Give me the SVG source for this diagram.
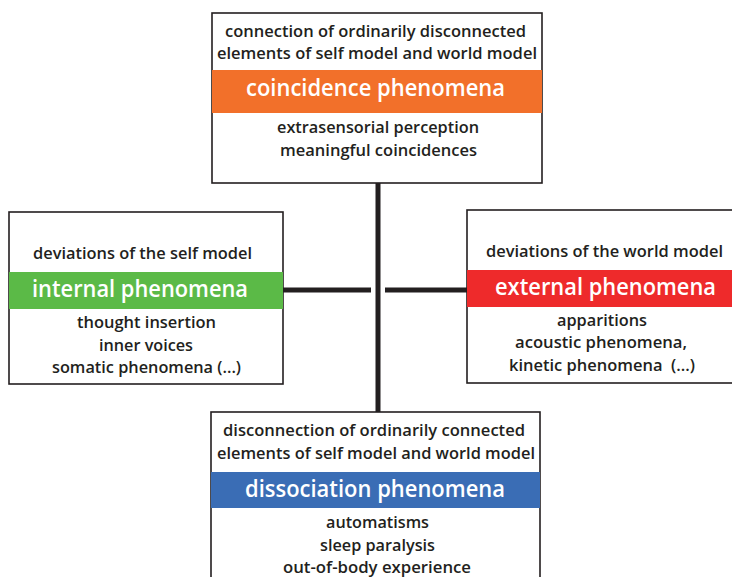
<svg xmlns="http://www.w3.org/2000/svg" width="732" height="577" viewBox="0 0 732 577">
<style>
.box{fill:#ffffff;stroke:#231f20;stroke-width:1.6}
.t{font-family:"Open Sans","Liberation Sans",sans-serif;font-weight:600;font-size:16px;fill:#231f20;text-anchor:middle}
.h{font-family:"Open Sans","Liberation Sans",sans-serif;font-weight:600;font-size:23px;fill:#ffffff;text-anchor:middle}
.c{stroke:#231f20;stroke-width:5;fill:none}
</style>
<rect width="732" height="577" fill="#ffffff"/>
<g id="connectors">
<line class="c" x1="378" y1="183" x2="378" y2="412"/>
<line class="c" x1="283" y1="290" x2="371" y2="290"/>
<line class="c" x1="385" y1="290" x2="467" y2="290"/>
</g>
<g id="coincidence">
<rect class="box" x="212" y="13" width="330" height="170"/>
<rect x="212" y="70" width="330" height="43" fill="#f2702a"/>
<text class="t" x="375.5" y="37" textLength="301" lengthAdjust="spacingAndGlyphs">connection of ordinarily disconnected</text>
<text class="t" x="377" y="59" textLength="320" lengthAdjust="spacingAndGlyphs">elements of self model and world model</text>
<text class="h" x="375.5" y="96" textLength="259" lengthAdjust="spacingAndGlyphs">coincidence phenomena</text>
<text class="t" x="378" y="133" textLength="202" lengthAdjust="spacingAndGlyphs">extrasensorial perception</text>
<text class="t" x="378.5" y="156" textLength="197" lengthAdjust="spacingAndGlyphs">meaningful coincidences</text>
</g>
<g id="internal">
<rect class="box" x="9" y="212" width="274" height="172"/>
<rect x="9" y="272" width="274" height="37" fill="#5bba47"/>
<text class="t" x="142.5" y="259" textLength="219" lengthAdjust="spacingAndGlyphs">deviations of the self model</text>
<text class="h" x="140" y="297" textLength="216" lengthAdjust="spacingAndGlyphs">internal phenomena</text>
<text class="t" x="146.5" y="328" textLength="139" lengthAdjust="spacingAndGlyphs">thought insertion</text>
<text class="t" x="146" y="351" textLength="94" lengthAdjust="spacingAndGlyphs">inner voices</text>
<text class="t" x="146.5" y="373" textLength="189" lengthAdjust="spacingAndGlyphs">somatic phenomena (...)</text>
</g>
<g id="external">
<rect class="box" x="467" y="210" width="270" height="173"/>
<rect x="467" y="270" width="270" height="37" fill="#ee2a2b"/>
<text class="t" x="604.5" y="257" textLength="237" lengthAdjust="spacingAndGlyphs">deviations of the world model</text>
<text class="h" x="605.5" y="295" textLength="221" lengthAdjust="spacingAndGlyphs">external phenomena</text>
<text class="t" x="602" y="326" textLength="90" lengthAdjust="spacingAndGlyphs">apparitions</text>
<text class="t" x="601" y="348" textLength="172" lengthAdjust="spacingAndGlyphs">acoustic phenomena,</text>
<text class="t" x="602" y="371" textLength="186" lengthAdjust="spacingAndGlyphs" xml:space="preserve">kinetic phenomena  (...)</text>
</g>
<g id="dissociation">
<rect class="box" x="211" y="412" width="329" height="180"/>
<rect x="211" y="472" width="329" height="36" fill="#3a6db5"/>
<text class="t" x="374" y="436" textLength="302" lengthAdjust="spacingAndGlyphs">disconnection of ordinarily connected</text>
<text class="t" x="376" y="459" textLength="318" lengthAdjust="spacingAndGlyphs">elements of self model and world model</text>
<text class="h" x="375" y="497" textLength="260" lengthAdjust="spacingAndGlyphs">dissociation phenomena</text>
<text class="t" x="377.5" y="528" textLength="103" lengthAdjust="spacingAndGlyphs">automatisms</text>
<text class="t" x="377.5" y="551" textLength="115" lengthAdjust="spacingAndGlyphs">sleep paralysis</text>
<text class="t" x="377" y="573" textLength="188" lengthAdjust="spacingAndGlyphs">out-of-body experience</text>
</g>
</svg>
